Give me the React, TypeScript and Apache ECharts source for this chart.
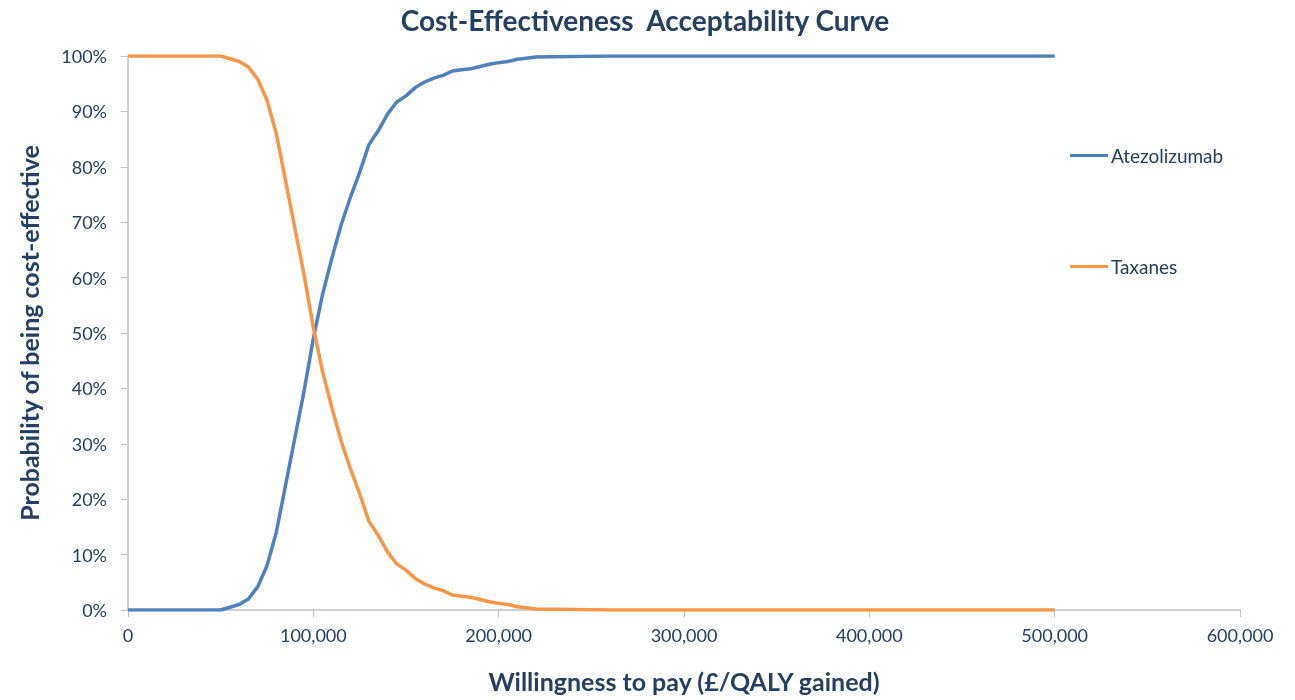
import React, { useEffect, useRef } from "react";
import * as echarts from "echarts";

const wtp = [
  0, 50000, 55000, 60000, 65000, 70000, 75000, 80000, 85000, 90000, 95000,
  100000, 105000, 110000, 115000, 120000, 125000, 130000, 135000, 140000,
  145000, 150000, 155000, 160000, 165000, 170000, 175000, 180000, 185000,
  190000, 195000, 200000, 205000, 210000, 215000, 220000, 240000, 260000, 500000,
];
const atezolizumab = [
  0, 0, 0.5, 1.0, 2.0, 4.2, 8, 14, 22.5, 31, 39.5,
  49, 57, 63.5, 69.5, 74.5, 79, 84, 86.5, 89.5,
  91.7, 92.8, 94.3, 95.3, 96.0, 96.5, 97.3, 97.5, 97.7,
  98.1, 98.5, 98.8, 99.0, 99.4, 99.6, 99.8, 99.9, 100, 100,
];
const taxanes = [
  100, 100, 99.5, 99.0, 98.0, 95.8, 92, 86, 77.5, 69, 60.5,
  51, 43, 36.5, 30.5, 25.5, 21, 16, 13.5, 10.5,
  8.3, 7.2, 5.7, 4.7, 4.0, 3.5, 2.7, 2.5, 2.3,
  1.9, 1.5, 1.2, 1.0, 0.6, 0.4, 0.2, 0.1, 0, 0,
];
const seriesNames = ["Atezolizumab", "Taxanes"];
const colors = ["#4F81BD", "#F79646"];

const textColor = "#243F60";
const font = "Lato, 'Open Sans', sans-serif";

export default function App() {
  const ref = useRef<HTMLDivElement>(null);
  useEffect(() => {
    if (!ref.current) return;
    const chart = echarts.init(ref.current, undefined, { renderer: "svg" });
    const mk = (vals: number[]) => wtp.map((x, i) => [x, vals[i]]);
    chart.setOption({
      animation: false,
      textStyle: { fontFamily: font },
      title: {
        text: "Cost-Effectiveness  Acceptability Curve",
        left: 645,
        top: 6,
        padding: 0,
        textAlign: "center",
        textStyle: { fontFamily: font, fontSize: 28, fontWeight: "bold", color: textColor },
      },
      legend: {
        orient: "vertical",
        left: 1065,
        top: 141,
        itemGap: 92,
        itemWidth: 38,
        itemHeight: 3,
        icon: "rect",
        data: seriesNames,
        textStyle: { fontFamily: font, fontSize: 19, color: textColor, padding: [0, 0, 0, -2] },
      },
      grid: { left: 128, right: 55, top: 56, bottom: 90, outerBoundsMode: "none", containLabel: false },
      xAxis: {
        type: "value",
        min: 0,
        max: 600000,
        interval: 100000,
        name: "Willingness to pay (£/QALY gained)",
        nameLocation: "middle",
        nameGap: 58,
        nameTextStyle: { fontFamily: font, fontSize: 25, fontWeight: "bold", color: textColor },
        axisLine: { lineStyle: { color: "#BFBFBF", width: 1.5 } },
        axisTick: { show: true, length: 7, lineStyle: { color: "#BFBFBF" } },
        axisLabel: {
          color: textColor,
          fontSize: 18,
          margin: 16,
          formatter: (v: number) => v.toLocaleString("en-US"),
        },
        splitLine: { show: false },
      },
      yAxis: {
        type: "value",
        min: 0,
        max: 100,
        interval: 10,
        name: "Probability of being cost-effective",
        nameLocation: "middle",
        nameGap: 87,
        nameTextStyle: { fontFamily: font, fontSize: 25, fontWeight: "bold", color: textColor },
        axisLine: { show: true, lineStyle: { color: "#BFBFBF", width: 1.5 } },
        axisTick: { show: true, length: 7, lineStyle: { color: "#BFBFBF" } },
        axisLabel: { color: textColor, fontSize: 18, margin: 21, formatter: "{value}%" },
        splitLine: { show: false },
      },
      series: [
        {
          name: seriesNames[0],
          type: "line",
          data: mk(atezolizumab),
          symbol: "none",
          lineStyle: { color: colors[0], width: 3.5 },
          itemStyle: { color: colors[0] },
        },
        {
          name: seriesNames[1],
          type: "line",
          data: mk(taxanes),
          symbol: "none",
          lineStyle: { color: colors[1], width: 3.5 },
          itemStyle: { color: colors[1] },
        },
      ],
    });
    return () => chart.dispose();
  }, []);
  return (
    <div
      ref={ref}
      style={{ position: "fixed", left: 0, top: 0, width: 1295, height: 700 }}
    />
  );
}
